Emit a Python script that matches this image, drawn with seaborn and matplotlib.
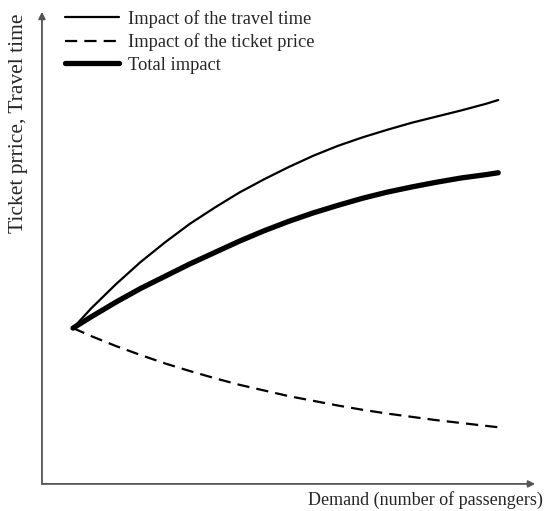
import matplotlib
matplotlib.use("Agg")
import matplotlib.pyplot as plt
import pandas as pd
import seaborn as sns

# Schematic values (arbitrary units, both axes span 0..100)
demand = [6.3, 10, 15, 20, 25, 30, 35, 40, 45, 50, 55, 60, 65, 70, 75, 80, 85, 90, 92.5]
travel_time_impact = [33.0, 37.2, 42.3, 47.0, 51.2, 55.1, 58.5, 61.7, 64.5, 67.1,
                      69.5, 71.6, 73.4, 75.0, 76.5, 77.8, 79.1, 80.5, 81.3]
ticket_price_impact = [33.0, 31.3, 29.2, 27.3, 25.5, 23.9, 22.4, 21.0, 19.8, 18.6,
                       17.6, 16.6, 15.7, 14.9, 14.2, 13.5, 12.9, 12.3, 12.0]
total_impact = [33.0, 35.4, 38.5, 41.4, 44.0, 46.6, 49.0, 51.4, 53.6, 55.6,
                57.4, 59.0, 60.5, 61.8, 62.9, 63.9, 64.8, 65.5, 65.9]

labels = ["Impact of the travel time", "Impact of the ticket price", "Total impact"]

df = pd.DataFrame({
    "demand": demand * 3,
    "value": travel_time_impact + ticket_price_impact + total_impact,
    "series": [labels[0]] * len(demand) + [labels[1]] * len(demand) + [labels[2]] * len(demand),
})

sns.set_style("white")
plt.rcParams["font.family"] = ["Liberation Serif", "DejaVu Serif"]

fig = plt.figure(figsize=(5.45, 5.11), dpi=100)
ax = fig.add_axes([0.077, 0.053, 0.905, 0.924])

styles = {
    labels[0]: dict(lw=1.6, ls="-"),
    labels[1]: dict(lw=1.6, ls=(0, (5.5, 3.2))),
    labels[2]: dict(lw=3.8, ls="-"),
}
for name in labels:
    sub = df[df["series"] == name]
    sns.lineplot(data=sub, x="demand", y="value", color="black", label=name,
                 ax=ax, solid_capstyle="round", linestyle=styles[name]["ls"],
                 linewidth=styles[name]["lw"])

ax.set_xlim(0, 100)
ax.set_ylim(0, 100)
ax.set_xticks([])
ax.set_yticks([])
ax.set_xlabel("")
ax.set_ylabel("")
for s in ax.spines.values():
    s.set_visible(False)

# axes drawn as arrows
arrow = dict(arrowstyle="-|>", color="#555555", lw=1.3, mutation_scale=10,
             shrinkA=0, shrinkB=0)
ax.annotate("", xy=(1.0, 0), xytext=(0, 0), xycoords="axes fraction", arrowprops=arrow)
ax.annotate("", xy=(0, 1.0), xytext=(0, 0), xycoords="axes fraction", arrowprops=arrow)

fig.text(0.996, 0.022, "Demand (number of passengers)", ha="right", va="center",
         fontsize=13)
fig.text(0.034, 1 - 123 / 511, "Ticket prrice, Travel time", rotation=90,
         ha="center", va="center", fontsize=15.5)

ax.legend(loc="upper left", bbox_to_anchor=(0.098, 1.004), bbox_transform=fig.transFigure,
          frameon=False, fontsize=13.3, handlelength=2.9, handletextpad=0.5,
          labelspacing=0.3, borderpad=0.15)

fig.savefig("out.png", dpi=100)
